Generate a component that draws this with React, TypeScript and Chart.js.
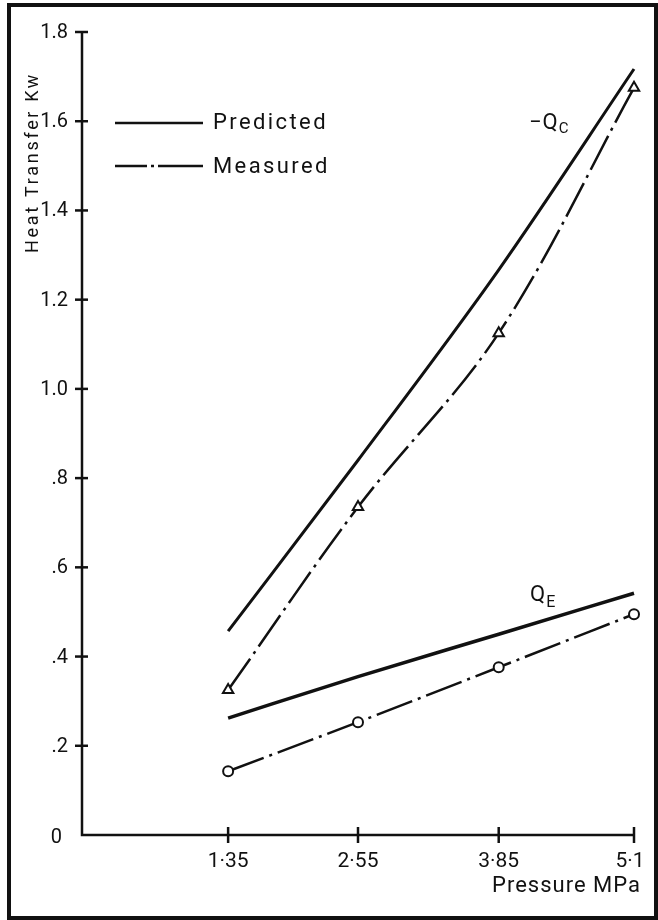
import { useEffect, useRef } from 'react';
import { Chart, registerables } from 'chart.js';

Chart.register(...registerables);

// ---- data ----
const pressures = [1.35, 2.55, 3.85, 5.1];
const qcPredicted = [0.457, 0.84, 1.267, 1.717];
const qcMeasured = [0.325, 0.735, 1.125, 1.675];
const qePredicted = [0.262, 0.355, 0.45, 0.542];
const qeMeasured = [0.143, 0.253, 0.376, 0.495];

const xTickValues = [1.35, 2.55, 3.85, 5.1];
const xTickLabels = ['1·35', '2·55', '3·85', '5·1'];
const yTickValues = [0, 0.2, 0.4, 0.6, 0.8, 1.0, 1.2, 1.4, 1.6, 1.8];
const yTickLabels = ['0', '.2', '.4', '.6', '.8', '1.0', '1.2', '1.4', '1.6', '1.8'];

const xMin = 0;
const xMax = 5.1;
const yMin = 0;
const yMax = 1.8;

const yTitle = 'Heat Transfer Kw';
const xTitle = 'Pressure MPa';
const legendPredicted = 'Predicted';
const legendMeasured = 'Measured';

// curve labels (data space anchors)
const qcLabel = { x: 4.13, y: 1.583, main: '−Q', sub: 'C' };
const qeLabel = { x: 4.14, y: 0.524, main: 'Q', sub: 'E' };

const toXY = (ys: number[]) => pressures.map((x, i) => ({ x, y: ys[i] }));

const DASH_DOT = [38, 6, 3, 6];
const FONT = 'Roboto, "DejaVu Sans", sans-serif';

const decorPlugin = {
  id: 'decor',
  beforeDatasetsDraw(chart: any) {
    const ctx = chart.ctx as CanvasRenderingContext2D;
    const xs = chart.scales.x;
    const ys = chart.scales.y;
    ctx.save();
    // outer frame
    ctx.strokeStyle = '#111';
    ctx.lineWidth = 4;
    ctx.strokeRect(9, 5, 647, 913);

    const x0 = xs.getPixelForValue(xMin);
    const y0 = ys.getPixelForValue(yMin);
    ctx.lineWidth = 2.5;
    ctx.lineCap = 'butt';
    ctx.beginPath();
    ctx.moveTo(x0, ys.getPixelForValue(yMax) - 1);
    ctx.lineTo(x0, y0);
    ctx.lineTo(xs.getPixelForValue(xMax) + 1, y0);
    ctx.stroke();

    // y ticks crossing axis
    yTickValues.forEach((v) => {
      if (v === 0) return;
      const py = ys.getPixelForValue(v);
      ctx.beginPath();
      ctx.moveTo(x0 - 7, py);
      ctx.lineTo(x0 + 6, py);
      ctx.stroke();
    });
    // x ticks crossing axis
    xTickValues.forEach((v) => {
      const px = xs.getPixelForValue(v);
      ctx.beginPath();
      ctx.moveTo(px, y0 - 8);
      ctx.lineTo(px, y0 + 8);
      ctx.stroke();
    });
    ctx.restore();
  },
  afterDraw(chart: any) {
    const ctx = chart.ctx as CanvasRenderingContext2D;
    const xs = chart.scales.x;
    const ys = chart.scales.y;
    const x0 = xs.getPixelForValue(xMin);
    const y0 = ys.getPixelForValue(yMin);
    ctx.save();
    ctx.fillStyle = '#111';
    ctx.strokeStyle = '#111';

    // y tick labels
    ctx.font = `20px ${FONT}`;
    ctx.textAlign = 'right';
    ctx.textBaseline = 'middle';
    yTickValues.forEach((v, i) => {
      const py = ys.getPixelForValue(v);
      const dx = v === 0 ? 20 : 14;
      ctx.fillText(yTickLabels[i], x0 - dx, py + (v === 0 ? 3 : 1));
    });

    // x tick labels
    ctx.font = `21px ${FONT}`;
    ctx.textAlign = 'center';
    ctx.textBaseline = 'alphabetic';
    xTickValues.forEach((v, i) => {
      const px = xs.getPixelForValue(v);
      ctx.fillText(xTickLabels[i], px - (i === 3 ? 4 : 0), y0 + 32);
    });

    // x title
    (ctx as any).letterSpacing = '1px';
    ctx.font = `22px ${FONT}`;
    ctx.textAlign = 'right';
    ctx.fillText(xTitle, xs.getPixelForValue(xMax) + 7, y0 + 57);

    // y title (reads bottom to top)
    ctx.save();
    (ctx as any).letterSpacing = '2.7px';
    ctx.font = `18px ${FONT}`;
    ctx.translate(38, 253);
    ctx.rotate(-Math.PI / 2);
    ctx.textAlign = 'left';
    ctx.textBaseline = 'alphabetic';
    ctx.fillText(yTitle, 0, 0);
    ctx.restore();

    // legend
    (ctx as any).letterSpacing = '2.4px';
    ctx.font = `22px ${FONT}`;
    ctx.textAlign = 'left';
    ctx.lineWidth = 2.5;
    ctx.beginPath();
    ctx.moveTo(115, 123);
    ctx.lineTo(203, 123);
    ctx.stroke();
    ctx.fillText(legendPredicted, 213, 129);
    ctx.beginPath();
    ctx.moveTo(115, 166);
    ctx.lineTo(147, 166);
    ctx.moveTo(151, 166);
    ctx.lineTo(154, 166);
    ctx.moveTo(158, 166);
    ctx.lineTo(203, 166);
    ctx.stroke();
    ctx.fillText(legendMeasured, 213, 173);

    // curve labels
    (ctx as any).letterSpacing = '1px';
    const drawLabel = (lab: { x: number; y: number; main: string; sub: string }, mainSize: number, subSize: number, subDrop: number) => {
      const px = xs.getPixelForValue(lab.x);
      const py = ys.getPixelForValue(lab.y);
      ctx.font = `${mainSize}px ${FONT}`;
      ctx.fillText(lab.main, px, py);
      const w = ctx.measureText(lab.main).width;
      ctx.font = `${subSize}px ${FONT}`;
      ctx.fillText(lab.sub, px + w, py + subDrop);
    };
    drawLabel(qcLabel, 22, 15, 4);
    drawLabel(qeLabel, 22, 16, 6);

    ctx.restore();
  },
};

export default function App() {
  const ref = useRef<HTMLCanvasElement>(null);

  useEffect(() => {
    if (!ref.current) return;
    const chart = new Chart(ref.current, {
      type: 'line',
      data: {
        datasets: [
          {
            label: '-Qc predicted',
            data: toXY(qcPredicted),
            borderColor: '#111',
            borderWidth: 3,
            pointRadius: 0,
            cubicInterpolationMode: 'monotone',
            clip: false,
          },
          {
            label: '-Qc measured',
            data: toXY(qcMeasured),
            borderColor: '#111',
            borderWidth: 2.5,
            borderDash: DASH_DOT,
            pointStyle: 'triangle',
            pointRadius: 6,
            pointBorderWidth: 2,
            pointBorderColor: '#111',
            pointBackgroundColor: '#fff',
            tension: 0.35,
            clip: false,
          },
          {
            label: 'Qe predicted',
            data: toXY(qePredicted),
            borderColor: '#111',
            borderWidth: 3.5,
            pointRadius: 0,
            cubicInterpolationMode: 'monotone',
            clip: false,
          },
          {
            label: 'Qe measured',
            data: toXY(qeMeasured),
            borderColor: '#111',
            borderWidth: 2.5,
            borderDash: DASH_DOT,
            pointStyle: 'circle',
            pointRadius: 5,
            pointBorderWidth: 2,
            pointBorderColor: '#111',
            pointBackgroundColor: '#fff',
            cubicInterpolationMode: 'monotone',
            clip: false,
          },
        ] as any,
      },
      options: {
        responsive: false,
        animation: false,
        devicePixelRatio: 1,
        layout: { padding: { left: 82, right: 24, top: 32, bottom: 85 } },
        scales: {
          x: { type: 'linear', min: xMin, max: xMax, display: false },
          y: { type: 'linear', min: yMin, max: yMax, display: false },
        },
        plugins: {
          legend: { display: false },
          tooltip: { enabled: false },
        },
      },
      plugins: [decorPlugin],
    });
    return () => chart.destroy();
  }, []);

  return (
    <div style={{ position: 'absolute', left: 0, top: 0, width: 658, height: 920, background: '#fff' }}>
      <canvas ref={ref} width={658} height={920} style={{ display: 'block', width: 658, height: 920 }} />
    </div>
  );
}
